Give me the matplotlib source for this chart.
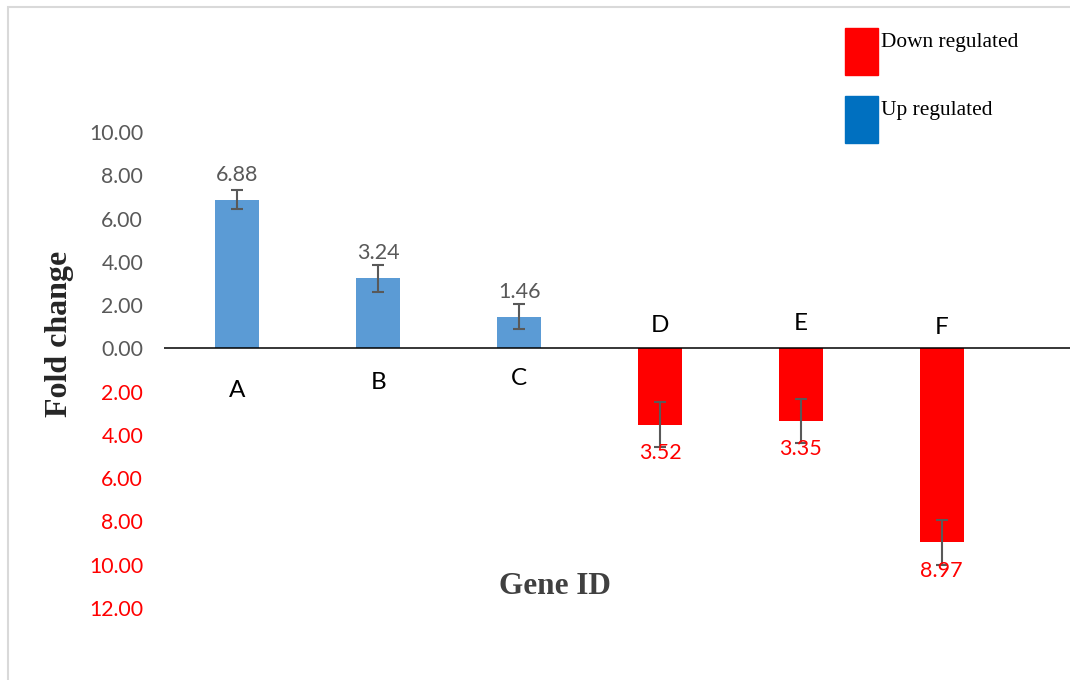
import matplotlib.pyplot as plt
from matplotlib.patches import Rectangle

genes = ['A', 'B', 'C', 'D', 'E', 'F']
fold_change = [6.88, 3.24, 1.46, -3.52, -3.35, -8.97]
errors = [0.46, 0.62, 0.58, 1.02, 1.02, 1.05]
gene_label_y = [-1.94, -1.57, -1.39, 1.06, 1.16, 0.97]
legend_labels = ['Down regulated', 'Up regulated']
yticks = [10, 8, 6, 4, 2, 0, -2, -4, -6, -8, -10, -12]

BLUE = '#5B9BD5'
RED = '#FF0000'
GRAY = '#595959'

fig = plt.figure(figsize=(10.7, 6.8), dpi=100)
ax = fig.add_axes([164 / 1070, 1 - 608 / 680, 906 / 1070, 476 / 680])

x = list(range(len(genes)))
colors = [BLUE if v > 0 else RED for v in fold_change]
ax.bar(x, fold_change, width=0.315, color=colors, zorder=2)
ax.errorbar(x, fold_change, yerr=errors, fmt='none', ecolor=GRAY,
            elinewidth=1.5, capsize=4.3, capthick=1.5, zorder=3)
ax.axhline(0, color='black', lw=1.1, zorder=4)

for xi, v, ly, g in zip(x, fold_change, gene_label_y, genes):
    ax.text(xi, ly, g, ha='center', va='center', fontsize=17.5,
            family='Lato', color='black')
    if v > 0:
        ax.text(xi, v + 1.15, f'{v:.2f}', ha='center', va='center',
                fontsize=15.5, family='Lato', color=GRAY)
    else:
        ax.text(xi, v - 1.3, f'{abs(v):.2f}', ha='center', va='center',
                fontsize=15.5, family='Lato', color=RED)

ax.set_xlim(-0.52, 5.91)
ax.set_ylim(-12, 10)
ax.set_xticks([])
ax.set_yticks(yticks)
ax.set_yticklabels([f'{abs(t):.2f}' for t in yticks], family='Lato', fontsize=15.3)
for t, lab in zip(yticks, ax.get_yticklabels()):
    lab.set_color(RED if t < 0 else GRAY)
ax.tick_params(axis='y', length=0, pad=15)
for s in ax.spines.values():
    s.set_visible(False)

fig.text(60 / 1070, 1 - 334 / 680, 'Fold change', rotation=90, ha='center',
         va='center', fontsize=23, fontweight='bold', family='Liberation Serif',
         color='#262626')
fig.text(555 / 1070, 1 - 586 / 680, 'Gene ID', ha='center', va='center',
         fontsize=22.5, fontweight='bold', family='Liberation Serif',
         color='#404040')

# legend boxes
for (top, col, lab) in [(28, RED, legend_labels[0]), (96, '#0070C0', legend_labels[1])]:
    fig.add_artist(Rectangle((845 / 1070, 1 - (top + 47) / 680), 33 / 1070, 47 / 680,
                             transform=fig.transFigure, color=col))
    fig.text(881 / 1070, 1 - (top + 15) / 680, lab, ha='left', va='center',
             fontsize=15.4, family='Liberation Serif', color='black')

# chart border
fig.add_artist(Rectangle((8 / 1070, -0.1), 1.2, 1 - 7 / 680 + 0.1,
                         transform=fig.transFigure, fill=False,
                         edgecolor='#d9d9d9', lw=1.5))

fig.savefig('out.png', dpi=100)
